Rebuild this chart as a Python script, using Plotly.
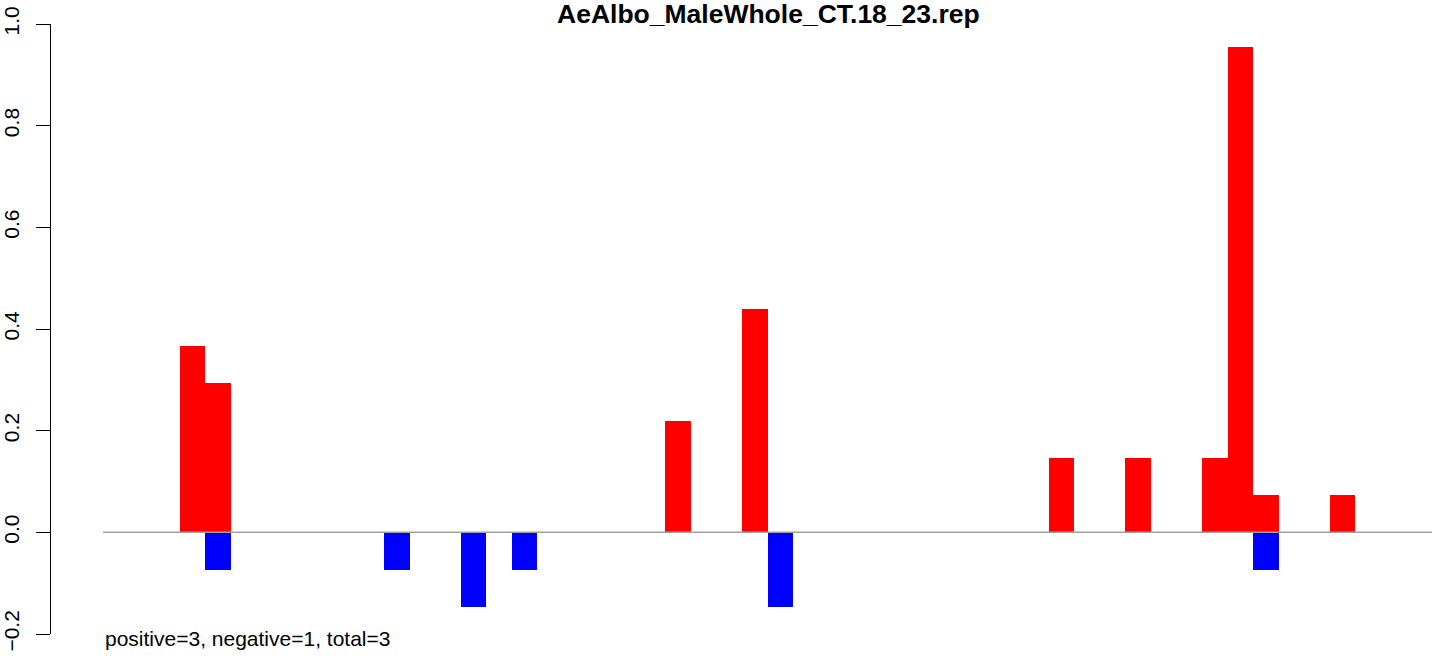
import plotly.graph_objects as go

# Data
n_slots = 52
pos_idx = [3, 4, 22, 25, 37, 40, 43, 44, 45, 48]
pos_val = [0.367, 0.294, 0.220, 0.440, 0.147, 0.147, 0.147, 0.955, 0.0735, 0.0735]
neg_idx = [4, 11, 14, 16, 26, 45]
neg_val = [-0.0735, -0.0735, -0.147, -0.0735, -0.147, -0.0735]
y_ticks = [-0.2, 0.0, 0.2, 0.4, 0.6, 0.8, 1.0]
y_ticktext = ["\u22120.2", "0.0", "0.2", "0.4", "0.6", "0.8", "1.0"]
title_text = "AeAlbo_MaleWhole_CT.18_23.rep"
note_text = "positive=3, negative=1, total=3"

W, H = 1452, 656
ml, mr, mt, mb = 51, 20, 24, 22
plot_w = W - ml - mr
plot_h = H - mt - mb

fig = go.Figure()
fig.add_trace(go.Bar(x=pos_idx, y=pos_val, width=1, marker=dict(color="#ff0000", line=dict(width=0)),
                     showlegend=False, hoverinfo="skip"))
fig.add_trace(go.Bar(x=neg_idx, y=neg_val, width=1, marker=dict(color="#0000ff", line=dict(width=0)),
                     showlegend=False, hoverinfo="skip"))

# zero line across the bar slots
fig.add_shape(type="line", x0=-0.5, x1=n_slots - 0.5, y0=0, y1=0, xref="x", yref="y",
              line=dict(color="#a0a0a0", width=1.5), layer="above")

slot_px = (1432 - 103) / n_slots
x_min = -0.5 - (103 - ml) / slot_px
x_max = n_slots - 0.5

font_family = "Liberation Sans, Arial, sans-serif"

fig.add_annotation(text="<b>" + title_text + "</b>", xref="paper", yref="paper",
                   x=(769 - ml) / plot_w, y=(H - mb - 14) / plot_h,
                   xanchor="center", yanchor="middle", showarrow=False,
                   font=dict(family=font_family, size=26.5, color="black"))
fig.add_annotation(text=note_text, xref="paper", yref="paper",
                   x=(103 - ml) / plot_w, y=(H - mb - 638) / plot_h,
                   xanchor="left", yanchor="middle", showarrow=False,
                   font=dict(family=font_family, size=21, color="black"))

fig.update_layout(
    width=W, height=H,
    margin=dict(l=ml, r=mr, t=mt, b=mb, pad=0, autoexpand=False),
    paper_bgcolor="white", plot_bgcolor="white",
    barmode="overlay",
    bargap=0,
    xaxis=dict(range=[x_min, x_max], visible=False, showgrid=False, zeroline=False,
               automargin=False),
    yaxis=dict(range=[-0.2, 1.0], tickvals=y_ticks, ticktext=y_ticktext,
               showline=True, linecolor="black", linewidth=1.3,
               ticks="outside", ticklen=14, tickwidth=1.3, tickcolor="black",
               tickangle=-90, showgrid=False, zeroline=False, automargin=False,
               ticklabelstandoff=8,
               tickfont=dict(family=font_family, size=21, color="black")),
    font=dict(family=font_family),
)

fig.write_html("out.html", config={"displayModeBar": False},
               post_script="document.body.style.margin='0';document.body.style.overflow='hidden';")
